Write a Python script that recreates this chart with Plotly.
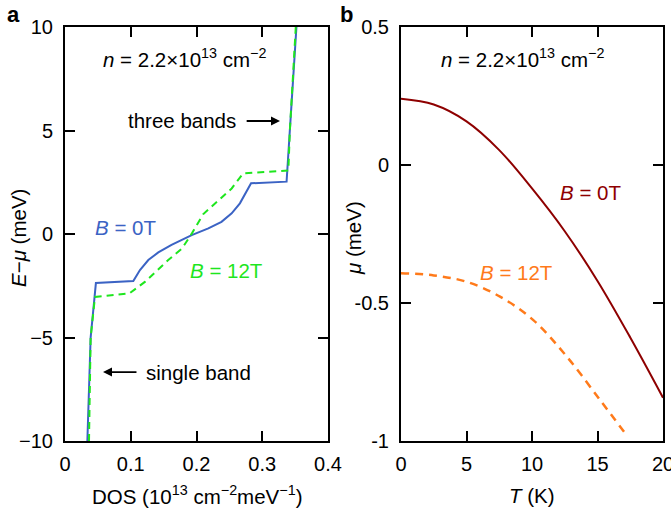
import plotly.graph_objects as go

# Panel a: DOS vs E-mu
dos_b0 = [0.034, 0.039, 0.047, 0.0837, 0.1039, 0.114, 0.1267, 0.1419, 0.162, 0.1927, 0.218, 0.238, 0.2535, 0.266, 0.276, 0.283, 0.337, 0.342, 0.352]
e_b0 = [-10, -5, -2.37, -2.30, -2.27, -1.74, -1.26, -0.89, -0.53, -0.05, 0.27, 0.59, 1.0, 1.48, 2.04, 2.45, 2.53, 5, 10]

dos_b12 = [0.0365, 0.039, 0.0456, 0.098, 0.122, 0.157, 0.178, 0.193, 0.21, 0.2535, 0.271, 0.3397, 0.342, 0.351]
e_b12 = [-10, -5, -3.04, -2.87, -2.30, -1.26, -0.70, 0.03, 0.95, 2.20, 2.93, 3.07, 5, 10]

# Panel b: mu vs T
t_b0 = [0, 2.5, 5, 7.5, 10, 12.5, 15, 17.5, 20]
mu_b0 = [0.24, 0.219, 0.158, 0.054, -0.085, -0.24, -0.42, -0.625, -0.843]

t_b12 = [0, 2.5, 5, 7.56, 10.1, 12.65, 15.19, 17.2]
mu_b12 = [-0.392, -0.400, -0.423, -0.477, -0.562, -0.694, -0.851, -0.978]

xa_ticks = [0, 0.1, 0.2, 0.3, 0.4]
xa_text = ["0", "0.1", "0.2", "0.3", "0.4"]
ya_ticks = [-10, -5, 0, 5, 10]
ya_text = ["\u221210", "\u22125", "0", "5", "10"]
xb_ticks = [0, 5, 10, 15, 20]
xb_text = ["0", "5", "10", "15", "20"]
yb_ticks = [-1, -0.5, 0, 0.5]
yb_text = ["-1", "-0.5", "0", "0.5"]

BLUE = "#3b63c4"
GREEN = "#1ee61e"
RED = "#8e0000"
ORANGE = "#ff7a1a"
FONT = "Liberation Sans, Arial, sans-serif"
FS = 20
AFS = 20.5

fig = go.Figure()
fig.add_trace(go.Scatter(x=dos_b0, y=e_b0, mode="lines", line=dict(color=BLUE, width=2),
                         xaxis="x", yaxis="y", showlegend=False))
fig.add_trace(go.Scatter(x=dos_b12, y=e_b12, mode="lines", line=dict(color=GREEN, width=2, dash="7px,5px"),
                         xaxis="x", yaxis="y", showlegend=False))
fig.add_trace(go.Scatter(x=t_b0, y=mu_b0, mode="lines", line=dict(color=RED, width=2, shape="spline"),
                         xaxis="x2", yaxis="y2", showlegend=False))
fig.add_trace(go.Scatter(x=t_b12, y=mu_b12, mode="lines", line=dict(color=ORANGE, width=2.5, dash="8px,6px", shape="spline"),
                         xaxis="x2", yaxis="y2", showlegend=False))

W, H = 671, 513
def px(x):
    return x / W
def py(y):
    return 1 - y / H

axcommon = dict(showline=True, linecolor="black", linewidth=2, mirror="allticks",
                ticks="inside", ticklen=10, tickwidth=2, tickcolor="black",
                showgrid=False, zeroline=False, automargin=False, ticklabeloverflow="allow",
                tickfont=dict(family=FONT, size=FS, color="black"), tickmode="array")

fig.update_layout(
    width=W, height=H, margin=dict(l=0, r=0, t=0, b=0),
    paper_bgcolor="white", plot_bgcolor="white",
    xaxis=dict(domain=[px(65), px(328)], range=[0, 0.4], tickvals=xa_ticks, ticktext=xa_text,
               anchor="y", ticklabelstandoff=4, **axcommon),
    yaxis=dict(domain=[py(441), py(27)], range=[-10, 10], tickvals=ya_ticks, ticktext=ya_text,
               anchor="x", ticklabelstandoff=6, **axcommon),
    xaxis2=dict(domain=[px(401), px(663)], range=[0, 20], tickvals=xb_ticks, ticktext=xb_text,
                anchor="y2", ticklabelstandoff=4, **axcommon),
    yaxis2=dict(domain=[py(441), py(27)], range=[-1, 0.5], tickvals=yb_ticks, ticktext=yb_text,
                anchor="x2", ticklabelstandoff=6, **axcommon),
)

def ann(text, x, y, size=AFS, color="black", xanchor="center", textangle=0, **kw):
    return dict(text=text, x=x, y=y, showarrow=False, xanchor=xanchor, yanchor="middle",
                textangle=textangle, font=dict(family=FONT, size=size, color=color), **kw)

annots = [
    ann("<b>a</b>", px(13), py(14), size=22, xref="paper", yref="paper"),
    ann("<b>b</b>", px(346), py(14), size=22, xref="paper", yref="paper"),
    ann("<i>n</i> = 2.2×10<sup>13</sup> cm<sup>\u22122</sup>", px(185), py(58), xref="paper", yref="paper"),
    ann("<i>n</i> = 2.2×10<sup>13</sup> cm<sup>\u22122</sup>", px(522), py(58), xref="paper", yref="paper"),
    ann("DOS (10<sup>13</sup> cm<sup>\u22122</sup>meV<sup>\u22121</sup>)", px(197), py(495), xref="paper", yref="paper"),
    ann("<i>E</i>\u2212<i>μ</i> (meV)", px(18), py(238), textangle=-90, xref="paper", yref="paper"),
    ann("<i>T</i> (K)", px(532), py(495), xref="paper", yref="paper"),
    ann("<i>μ</i> (meV)", px(353), py(238), textangle=-90, xref="paper", yref="paper"),
    ann("three bands", 0.263, 5.46, xanchor="right", xref="x", yref="y"),
    ann("single band", 0.120, -6.67, xanchor="left", xref="x", yref="y"),
    ann("<i>B</i> = 0T", 0.092, 0.3, color=BLUE, xref="x", yref="y"),
    ann("<i>B</i> = 12T", 0.245, -1.74, color=GREEN, xref="x", yref="y"),
    ann("<i>B</i> = 0T", 14.5, -0.1, color=RED, xref="x2", yref="y2"),
    ann("<i>B</i> = 12T", 8.78, -0.39, color=ORANGE, xref="x2", yref="y2"),
    dict(x=0.327, y=5.46, ax=0.274, ay=5.46, xref="x", yref="y", axref="x", ayref="y",
         text="", showarrow=True, arrowhead=2, arrowsize=1, arrowwidth=1.8, arrowcolor="black"),
    dict(x=0.0578, y=-6.67, ax=0.111, ay=-6.67, xref="x", yref="y", axref="x", ayref="y",
         text="", showarrow=True, arrowhead=2, arrowsize=1, arrowwidth=1.8, arrowcolor="black"),
]
fig.update_layout(annotations=annots)

fig.write_html("out.html")
